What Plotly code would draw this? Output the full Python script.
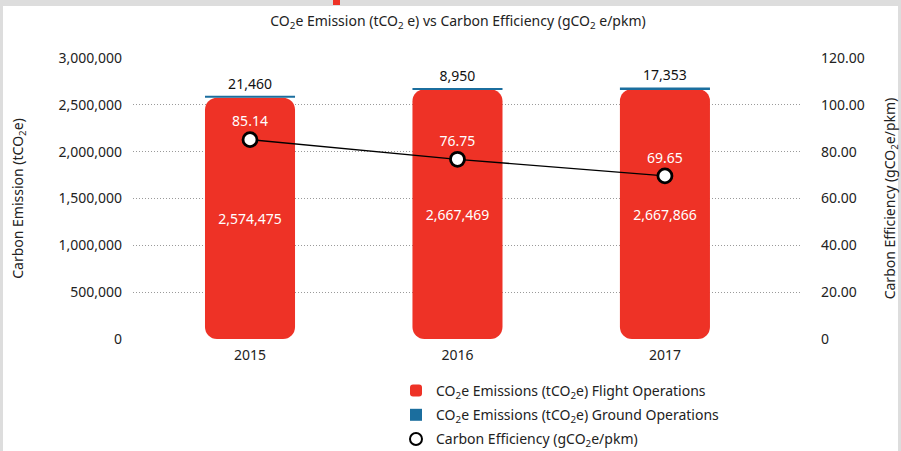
import plotly.graph_objects as go

years = ["2015", "2016", "2017"]
flight_ops = [2574475, 2667469, 2667866]
ground_ops = [21460, 8950, 17353]
efficiency = [85.14, 76.75, 69.65]

left_ticks = [0, 500000, 1000000, 1500000, 2000000, 2500000, 3000000]
left_ticktext = ["0", "500,000", "1,000,000", "1,500,000", "2,000,000", "2,500,000", "3,000,000"]
right_ticks = [0, 20, 40, 60, 80, 100, 120]
right_ticktext = ["0", "20.00", "40.00", "60.00", "80.00", "100.00", "120.00"]

RED = "#EE3226"
BLUE = "#1B6E9E"
FONT = "Noto Sans"

# plot-area pixel geometry
W, H = 901, 451
L, R, T, B = 133, 800, 58, 339


def fx(px):
    return (px - L) / (R - L)


def fy(py):
    return (B - py) / (B - T)


fig = go.Figure()

# Flight operations: drawn downward from its top so the rounded end is at the bottom
fig.add_trace(go.Bar(
    x=years, y=[-v for v in flight_ops], base=flight_ops,
    name="CO<sub>2</sub>e Emissions (tCO<sub>2</sub>e) Flight Operations",
    legendgroup="a",
    marker=dict(color=RED, line=dict(width=0), cornerradius=12),
    text=[f"{v:,}" for v in flight_ops], textposition="inside",
    insidetextanchor="middle", textangle=0,
    textfont=dict(color="white", size=14, family=FONT),
    width=0.434, hoverinfo="skip",
))
fig.add_trace(go.Bar(
    x=years, y=ground_ops, base=flight_ops,
    name="CO<sub>2</sub>e Emissions (tCO<sub>2</sub>e) Ground Operations",
    legendgroup="b",
    marker=dict(color=BLUE, line=dict(width=0)),
    text=[f"{v:,}" for v in ground_ops], textposition="outside",
    textfont=dict(color="#111", size=14, family=FONT), cliponaxis=False,
    width=0.434, hoverinfo="skip",
))
fig.add_trace(go.Scatter(
    x=years, y=efficiency, yaxis="y2", mode="lines",
    showlegend=False, line=dict(color="#000", width=1.3), hoverinfo="skip",
))
fig.add_trace(go.Scatter(
    x=years, y=efficiency, yaxis="y2", mode="markers+text",
    name="Carbon Efficiency (gCO<sub>2</sub>e/pkm)",
    legendgroup="c",
    marker=dict(size=14, color="white", line=dict(color="#000", width=2.8)),
    text=[f"{v:.2f}" for v in efficiency], textposition="top center",
    textfont=dict(color="white", size=14, family=FONT),
    cliponaxis=False,
))

fig.update_layout(
    width=W, height=H,
    margin=dict(l=L, r=W - R, t=T, b=H - B, autoexpand=False),
    paper_bgcolor="#dddddd", plot_bgcolor="rgba(0,0,0,0)",
    font=dict(family=FONT, size=14, color="#222"),
    barmode="overlay",
    title=dict(
        text="CO<sub>2</sub>e Emission (tCO<sub>2</sub> e) vs Carbon Efficiency (gCO<sub>2</sub> e/pkm)",
        x=458 / W, xref="container", xanchor="center",
        y=1 - 21 / H, yref="container", yanchor="middle",
        font=dict(size=14, color="#222", family=FONT),
    ),
    xaxis=dict(
        type="category", range=[-0.564, 2.651], showgrid=False, zeroline=False,
        showline=False, ticks="", ticklabelstandoff=6,
        tickfont=dict(size=14, color="#222"),
    ),
    yaxis=dict(
        range=[0, 3000000], tickvals=left_ticks, ticktext=left_ticktext,
        showgrid=True, gridcolor="#9a9a9a", griddash="1px,2px", gridwidth=1,
        zeroline=False, showline=False, ticklabelstandoff=10,
        tickfont=dict(size=14, color="#222"),
        title=dict(text="Carbon Emission (tCO<sub>2</sub>e)", standoff=31,
                   font=dict(size=14, color="#222")),
        automargin=True,
    ),
    yaxis2=dict(
        range=[0, 120], overlaying="y", side="right", tickvals=right_ticks,
        ticktext=right_ticktext, showgrid=False, zeroline=False, showline=False,
        ticklabelstandoff=20, tickfont=dict(size=14, color="#222"),
        title=dict(text="Carbon Efficiency (gCO<sub>2</sub>e/pkm)", standoff=32,
                   font=dict(size=14, color="#222")),
        automargin=True,
    ),
    legend=dict(
        x=fx(396), y=fy(375), xanchor="left", yanchor="top",
        bgcolor="rgba(0,0,0,0)", font=dict(size=14, color="#222"),
        traceorder="grouped", tracegroupgap=3, itemsizing="constant",
    ),
    showlegend=True,
    shapes=[
        dict(type="rect", xref="paper", yref="paper", layer="below",
             x0=fx(3), x1=fx(898), y0=fy(470), y1=fy(6),
             fillcolor="white", line=dict(width=0)),
        dict(type="rect", xref="paper", yref="paper", layer="below",
             x0=fx(333), x1=fx(340), y0=fy(5), y1=fy(0),
             fillcolor=RED, line=dict(width=0)),
    ],
)

fig.write_html("out.html", config={"displayModeBar": False},
               post_script="document.body.style.margin='0';")
